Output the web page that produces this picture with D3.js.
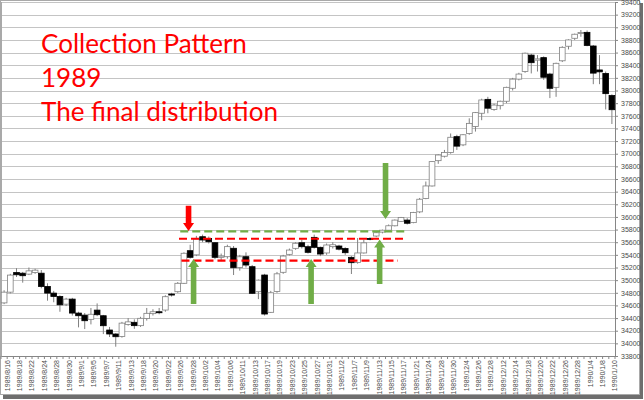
<!DOCTYPE html>
<html><head><meta charset="utf-8">
<script src="https://cdn.jsdelivr.net/npm/d3@7/dist/d3.min.js"></script>
<style>html,body{margin:0;padding:0;background:#fff;}svg{display:block}</style>
</head><body><svg id="c" width="644" height="400"></svg>
<script>
const dates = ["1989/8/16","1989/8/17","1989/8/18","1989/8/21","1989/8/22","1989/8/23","1989/8/24","1989/8/25","1989/8/28","1989/8/29","1989/8/30","1989/8/31",
"1989/9/1","1989/9/4","1989/9/5","1989/9/6","1989/9/7","1989/9/8","1989/9/11","1989/9/12","1989/9/13","1989/9/14","1989/9/18","1989/9/19","1989/9/20","1989/9/21","1989/9/22","1989/9/25","1989/9/26","1989/9/27","1989/9/28","1989/9/29",
"1989/10/2","1989/10/3","1989/10/4","1989/10/5","1989/10/6","1989/10/9","1989/10/11","1989/10/12","1989/10/13","1989/10/16","1989/10/17","1989/10/18","1989/10/19","1989/10/20","1989/10/23","1989/10/24","1989/10/25","1989/10/26","1989/10/27","1989/10/30","1989/10/31",
"1989/11/1","1989/11/2","1989/11/6","1989/11/7","1989/11/8","1989/11/9","1989/11/10","1989/11/13","1989/11/14","1989/11/15","1989/11/16","1989/11/17","1989/11/20","1989/11/21","1989/11/22","1989/11/24","1989/11/27","1989/11/28","1989/11/29","1989/11/30",
"1989/12/1","1989/12/4","1989/12/5","1989/12/6","1989/12/7","1989/12/8","1989/12/11","1989/12/12","1989/12/13","1989/12/14","1989/12/15","1989/12/18","1989/12/19","1989/12/20","1989/12/21","1989/12/22","1989/12/25","1989/12/26","1989/12/27","1989/12/28","1989/12/29",
"1990/1/4","1990/1/5","1990/1/8","1990/1/9","1990/1/10"];
const open  = [34640,34810,35120,35110,35095,35120,35110,34900,34795,34742,34620,34700,34479,34447,34380,34526,34437,34211,34148,34110,34300,34333,34280,34395,34470,34500,34527,34780,34817,34950,35466,35400,35687,35660,35592,35361,35371,35504,35200,35371,35213,34817,35081,34491,34820,35124,35408,35503,35592,35529,35677,35519,35430,35530,35540,35500,35361,35280,35430,35660,35698,35760,35790,35860,35930,35950,35910,36080,36290,36490,36890,36960,37020,37270,37140,37320,37430,37640,37860,37700,37760,37830,38035,38180,38300,38560,38480,38520,38260,38050,38470,38700,38826,38905,38920,38704,38325,38270,37920];
const high  = [34840,35100,35190,35130,35200,35180,35160,34950,34830,34760,34720,34720,34500,34480,34560,34632,34450,34260,34160,34340,34400,34380,34420,34560,34540,34560,34760,34800,34970,35440,35560,35700,35720,35690,35600,35420,35560,35540,35400,35440,35240,35010,35100,34830,35130,35400,35500,35600,35640,35560,35720,35530,35580,35600,35560,35520,35380,35666,35640,35680,35760,35800,35880,35960,36000,35980,36080,36300,36560,36880,36990,37060,37320,37300,37310,37560,37660,37870,37900,37790,37840,38060,38200,38280,38600,38580,38560,38540,38280,38440,38700,38810,38900,38957,38950,38720,38560,38300,37940];
const low   = [34620,34790,35050,34960,35080,35100,34870,34675,34650,34500,34590,34440,34253,34226,34300,34430,34147,34100,33947,34090,34280,34230,34260,34360,34440,34460,34500,34740,34800,34940,35340,35380,35600,35580,35330,35300,35340,35081,35150,35200,34780,34700,34440,34480,34800,35100,35390,35480,35500,35420,35500,35380,35400,35500,35470,35400,35097,35260,35420,35630,35680,35740,35780,35850,35920,35880,35900,36060,36280,36480,36840,36940,37000,37060,37120,37300,37350,37530,37640,37680,37700,37800,38000,38160,38280,38270,38300,38170,37880,37900,38450,38650,38800,38850,38700,38100,38100,37700,37470];
const close = [34810,35080,35085,35070,35147,35158,34900,34795,34742,34610,34700,34479,34437,34358,34460,34453,34279,34148,34105,34320,34340,34280,34396,34475,34500,34485,34738,34765,34950,35425,35361,35650,35635,35608,35361,35380,35530,35197,35370,35239,34792,35000,34464,34800,35100,35381,35476,35583,35529,35440,35519,35413,35556,35560,35490,35434,35276,35430,35590,35645,35750,35790,35860,35950,35990,35900,36070,36280,36490,36875,36980,37020,37260,37120,37300,37480,37650,37850,37720,37770,37830,38050,38180,38260,38590,38440,38500,38210,38035,38430,38683,38800,38890,38916,38713,38275,38295,37950,37696];
const yTicks = d3.range(33800, 39401, 200);
const titleLines = ["Collection Pattern","1989","The final distribution"];
// annotation levels (price) and positions (in trading-day units)
const levelLines = [
  {price:35770, from:28.9, to:65.2, color:"#70ad47"},
  {price:35655, from:28.7, to:65.0, color:"#ff0000"},
  {price:35310, from:29.1, to:64.0, color:"#ff0000"}
];
const arrows = [
  {pos:30.24, tail:36175, tip:35777, color:"#ff0000"},
  {pos:31.05, tail:34622, tip:35334, color:"#70ad47"},
  {pos:50.0,  tail:34622, tip:35334, color:"#70ad47"},
  {pos:61.05, tail:34939, tip:35643, color:"#70ad47"},
  {pos:62.0,  tail:36853, tip:35967, color:"#70ad47"}
];

const svg = d3.select("#c");
const n = dates.length;
const x = d3.scaleBand().domain(d3.range(n)).range([1, 615]).padding(0);
const step = x.step();
const xu = u => x.range()[0] + u * step;
const y = d3.scaleLinear().domain([33800, 39400]).range([356, 2]);

// frame + shadow
svg.append("rect").attr("x",3).attr("y",3).attr("width",640).attr("height",396).attr("fill","#6e6e6e");
svg.append("rect").attr("x",0.5).attr("y",0.5).attr("width",639).attr("height",394).attr("fill","#fff").attr("stroke","#a9a9a9");

// gridlines
svg.append("g").selectAll("line").data(yTicks).join("line")
  .attr("x1",1).attr("x2",615).attr("y1",d=>Math.round(y(d))+0.5).attr("y2",d=>Math.round(y(d))+0.5)
  .attr("stroke","#c4c4c4").attr("stroke-width",1.2);

// axes
const ya = svg.append("g").attr("transform","translate(615,0)")
  .call(d3.axisRight(y).tickValues(yTicks).tickSize(3).tickPadding(3).tickFormat(d3.format("d")));
ya.select(".domain").attr("stroke","#868686");
ya.selectAll(".tick line").attr("stroke","#868686");
ya.selectAll("text").attr("font-family","Liberation Sans, Arial, sans-serif").attr("font-size",7).attr("fill","#4a4a4a");

const xa = svg.append("g").attr("transform","translate(0,356)")
  .call(d3.axisBottom(x).tickValues(d3.range(0,n,2)).tickSize(0).tickFormat(i=>dates[i]));
xa.select(".domain").attr("stroke","#868686");
xa.selectAll("text").attr("font-family","Liberation Sans, Arial, sans-serif").attr("font-size",7).attr("fill","#4a4a4a")
  .attr("transform","rotate(-90)").attr("text-anchor","end").attr("x",-4).attr("y",3).attr("dy","0.35em");
svg.append("g").selectAll("line").data(d3.range(n+1)).join("line")
  .attr("x1",i=>xu(i)).attr("x2",i=>xu(i)).attr("y1",356).attr("y2",359).attr("stroke","#868686");
svg.append("line").attr("x1",1.5).attr("x2",1.5).attr("y1",2).attr("y2",356).attr("stroke","#a9a9a9");

// candles
const bw = step * 0.92;
const cg = svg.append("g");
d3.range(n).forEach(i => {
  const cx = x(i) + step/2;
  const up = close[i] >= open[i];
  cg.append("line").attr("x1",cx).attr("x2",cx).attr("y1",y(high[i])).attr("y2",y(low[i]))
    .attr("stroke","#808080").attr("stroke-width",1);
  const top = y(Math.max(open[i],close[i])), bot = y(Math.min(open[i],close[i]));
  cg.append("rect").attr("x",cx-bw/2).attr("y",top).attr("width",bw).attr("height",Math.max(1,bot-top))
    .attr("fill",up?"#ffffff":"#000000").attr("stroke",up?"#808080":"#000000").attr("stroke-width",0.8);
});

// level lines
svg.append("g").selectAll("line").data(levelLines).join("line")
  .attr("x1",d=>xu(d.from)).attr("x2",d=>xu(d.to)).attr("y1",d=>y(d.price)).attr("y2",d=>y(d.price))
  .attr("stroke",d=>d.color).attr("stroke-width",2.2).attr("stroke-dasharray","8,4");

// arrows
const ag = svg.append("g");
arrows.forEach(a => {
  const cx = xu(a.pos), yt = y(a.tail), yp = y(a.tip);
  const dir = yp < yt ? -1 : 1;
  const hl = 8, sw = 2.8, hw = 5.5;
  const yb = yp - dir*hl;
  const pts = [[cx-sw,yt],[cx-sw,yb],[cx-hw,yb],[cx,yp],[cx+hw,yb],[cx+sw,yb],[cx+sw,yt]];
  ag.append("path").attr("d","M"+pts.map(p=>p.join(",")).join("L")+"Z").attr("fill",a.color);
});

// title
const tg = svg.append("g");
const tt = tg.selectAll("text").data(titleLines).join("text")
  .attr("x",41).attr("y",(d,i)=>53+i*34)
  .attr("font-family","Lato, 'Open Sans', sans-serif").attr("font-size",28).attr("fill","#ff0000").text(d=>d);
const w0 = tt.nodes()[0].getComputedTextLength();
tt.attr("font-size", 28*206/w0);
</script></body></html>
